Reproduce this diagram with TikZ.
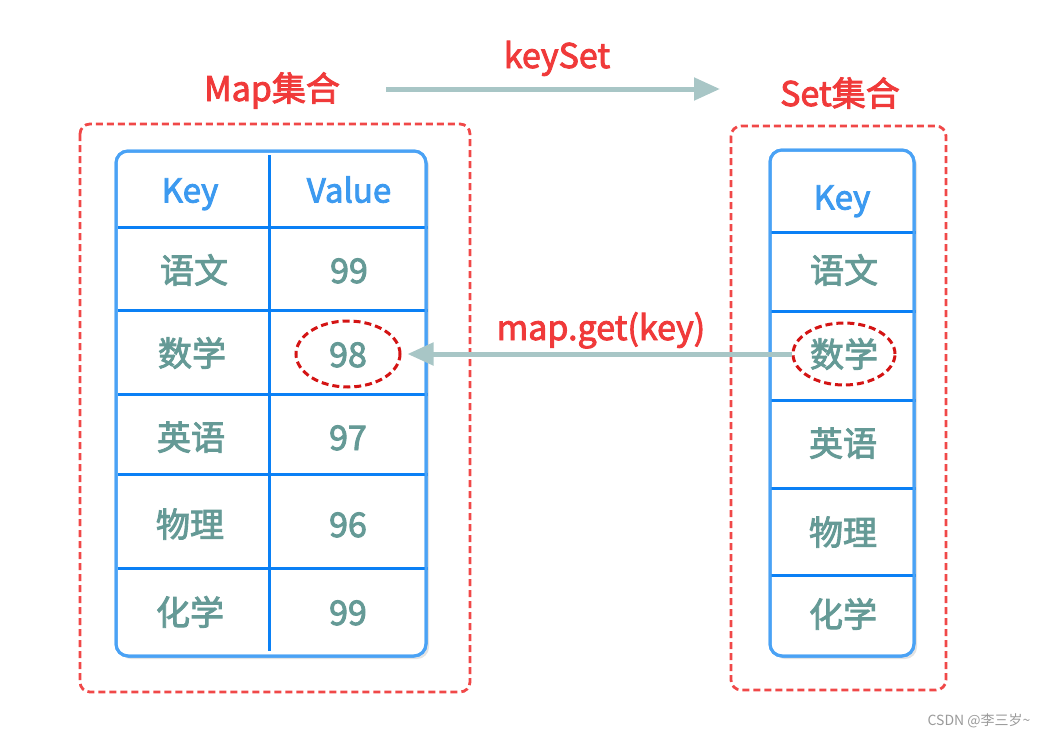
\documentclass[tikz,border=0pt]{standalone}
\usepackage{fontspec}
\setmainfont{Noto Sans CJK SC}
\newfontfamily\semifont[FakeBold=2.6]{Noto Sans CJK SC}
\usetikzlibrary{arrows.meta,shadows,shapes.geometric}
\definecolor{redt}{HTML}{F03A3A}
\definecolor{keyblue}{HTML}{3C9AF0}
\definecolor{cellgray}{HTML}{659A96}
\definecolor{dashred}{HTML}{F04848}
\definecolor{darkred}{HTML}{D41414}
\definecolor{tblue}{HTML}{4AA2F5}
\definecolor{gblue}{HTML}{0A80F5}
\definecolor{arrowteal}{HTML}{A8C6C6}
\definecolor{wmgray}{HTML}{9A9A9A}
\begin{document}
\begin{tikzpicture}[x=1pt,y=-1pt,
  title/.style={text=redt, font=\semifont\fontsize{34}{38}\selectfont, text height=26pt, text depth=0pt},
  hdr/.style={text=keyblue, font=\semifont\fontsize{33}{37}\selectfont, text height=25pt, text depth=0pt},
  cell/.style={text=cellgray, font=\semifont\fontsize{34}{38}\selectfont, text height=26pt, text depth=0pt},
  outerbox/.style={draw=dashred, line width=2.8pt, dash pattern=on 7pt off 4pt, rounded corners=10pt},
  tablebox/.style={draw=tblue, line width=3pt, rounded corners=12pt, fill=white,
     drop shadow={opacity=0.22, shadow xshift=3pt, shadow yshift=-3pt}},
  gridline/.style={draw=gblue, line width=3pt},
  circ/.style={ellipse, draw=darkred, line width=3pt, dash pattern=on 7pt off 4pt, inner sep=0pt},
  bigarrow/.style={draw=arrowteal, line width=5pt, -{Triangle[length=26pt,width=22pt]}},
]
\useasboundingbox (0,0) rectangle (1052,739);

% ---------- titles ----------
\node[title] (maptitle) at (272,88) {Map集合};
\node[title] (settitle) at (840,93) {Set集合};
\node[title] (kslabel) at (557,55) {keySet};
\node[title] (getlabel) at (601,327) {map.get(key)};

% ---------- outer dashed boxes ----------
\draw[outerbox] (80,124) rectangle (470,692);
\draw[outerbox] (731,126) rectangle (946,690);

% ---------- left table ----------
\path[tablebox] (116,151) rectangle (426,656);
\foreach \yy in {227,310,394,474,568} \draw[gridline] (118,\yy) -- (428,\yy);
\draw[gridline] (269,155) -- (269,651);
\draw[draw=tblue, line width=3pt, rounded corners=12pt] (116,151) rectangle (426,656);

\node[hdr] (lkey) at (190,190) {Key};
\node[hdr] (lval) at (349,190) {Value};
\node[cell] (l1k) at (194,270) {语文};
\node[cell] (l1v) at (349,270) {99};
\node[cell] (l2k) at (192,353) {数学};
\node[cell, circ, minimum width=104pt, minimum height=66pt] (v98) at (348,354) {98};
\node[cell] (l3k) at (191,437) {英语};
\node[cell] (l3v) at (348,437) {97};
\node[cell] (l4k) at (190,524) {物理};
\node[cell] (l4v) at (348,524) {96};
\node[cell] (l5k) at (190,612) {化学};
\node[cell] (l5v) at (348,612) {99};

% ---------- right table ----------
\path[tablebox] (770,150) rectangle (914,656);
\foreach \yy in {232,311,400,488,575} \draw[gridline] (771,\yy) -- (916,\yy);
\draw[draw=tblue, line width=3pt, rounded corners=12pt] (770,150) rectangle (914,656);

\node[hdr] (rkey) at (842,197) {Key};
\node[cell] (r1) at (844,270) {语文};
\node[cell, circ, minimum width=102pt, minimum height=62pt] (r2) at (844,354) {数学};
\node[cell] (r3) at (843,443) {英语};
\node[cell] (r4) at (843,532) {物理};
\node[cell] (r5) at (843,614) {化学};

% ---------- arrows ----------
\coordinate (ksA) at (386,89);
\coordinate (ksB) at (720,89);
\draw[bigarrow] (ksA) -- (ksB);
\draw[bigarrow] (r2.west) -- ([xshift=6pt]v98.east);

% ---------- watermark ----------
\node[text=wmgray, font=\fontsize{14}{16}\selectfont] (wm) at (979,721) {CSDN @李三岁\textasciitilde};
\end{tikzpicture}
\end{document}
